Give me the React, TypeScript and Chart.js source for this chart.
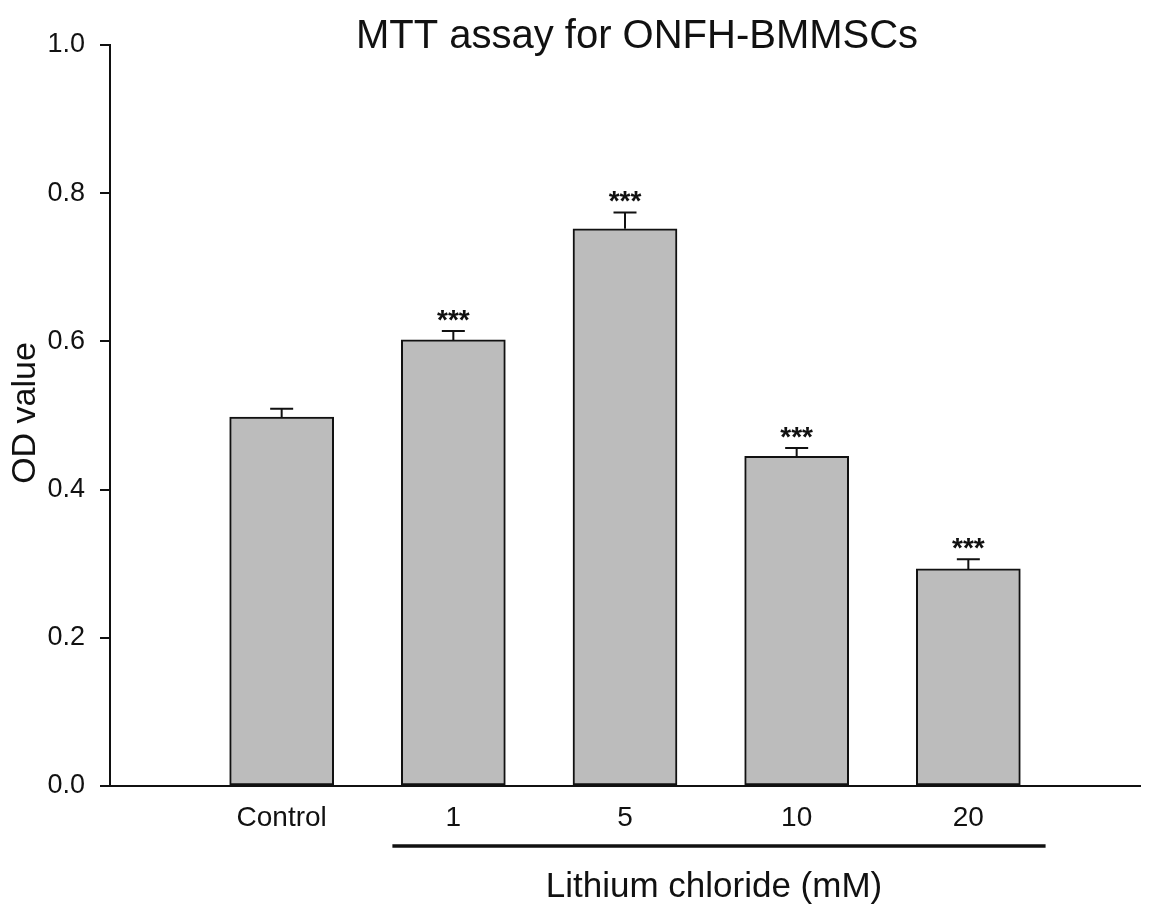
import React, { useEffect, useRef } from "react";
import { Chart, registerables } from "chart.js";

Chart.register(...registerables);

const categories = ["Control", "1", "5", "10", "20"];
const positions = [1, 2, 3, 4, 5];
const odValues = [0.498, 0.602, 0.752, 0.445, 0.293];
const odErrors = [0.011, 0.012, 0.022, 0.011, 0.013];
const significance = ["", "***", "***", "***", "***"];
const yTicks = [0, 0.2, 0.4, 0.6, 0.8, 1.0];

const FONT = "'Liberation Sans', Arial, Helvetica, sans-serif";
const INK = "#111111";

const annotations = {
  id: "annotations",
  afterDatasetsDraw(chart: any) {
    const ctx = chart.ctx;
    const meta = chart.getDatasetMeta(0);
    const y = chart.scales.y;
    ctx.save();
    ctx.strokeStyle = INK;
    ctx.fillStyle = INK;
    ctx.lineWidth = 2;
    meta.data.forEach((bar: any, i: number) => {
      const top = y.getPixelForValue(odValues[i]);
      const errTop = y.getPixelForValue(odValues[i] + odErrors[i]);
      ctx.beginPath();
      ctx.moveTo(bar.x, top);
      ctx.lineTo(bar.x, errTop);
      ctx.moveTo(bar.x - 11.5, errTop);
      ctx.lineTo(bar.x + 11.5, errTop);
      ctx.stroke();
      if (significance[i]) {
        ctx.font = `bold 28px ${FONT}`;
        ctx.textAlign = "center";
        ctx.textBaseline = "alphabetic";
        ctx.fillText(significance[i], bar.x, errTop - 2);
      }
    });
    ctx.restore();
  },
  afterDraw(chart: any) {
    const ctx = chart.ctx;
    const x = chart.scales.x;
    ctx.save();
    ctx.fillStyle = INK;
    ctx.strokeStyle = INK;
    // title
    ctx.font = `40px ${FONT}`;
    ctx.textAlign = "center";
    ctx.textBaseline = "alphabetic";
    ctx.fillText("MTT assay for ONFH-BMMSCs", 637, 48);
    // y axis title
    ctx.save();
    ctx.translate(35, 413);
    ctx.rotate(-Math.PI / 2);
    ctx.font = `34px ${FONT}`;
    ctx.textAlign = "center";
    ctx.textBaseline = "alphabetic";
    ctx.fillText("OD value", 0, 0);
    ctx.restore();
    // bracket under lithium groups
    ctx.lineWidth = 3.5;
    ctx.beginPath();
    ctx.moveTo(x.getPixelForValue(1.645), 846);
    ctx.lineTo(x.getPixelForValue(5.45), 846);
    ctx.stroke();
    ctx.font = `35px ${FONT}`;
    ctx.textAlign = "center";
    ctx.fillText("Lithium chloride (mM)", 714, 897);
    ctx.restore();
  },
};

export default function App() {
  const ref = useRef<HTMLCanvasElement | null>(null);
  useEffect(() => {
    if (!ref.current) return;
    const chart = new Chart(ref.current, {
      type: "bar",
      data: {
        datasets: [
          {
            data: positions.map((p, i) => ({ x: p, y: odValues[i] })),
            backgroundColor: "#bcbcbc",
            borderColor: INK,
            borderWidth: 2,
            borderSkipped: false,
            barThickness: 104,
          },
        ],
      },
      options: {
        responsive: false,
        animation: false,
        events: [],
        layout: { padding: { left: 0, right: 13, top: 45, bottom: 71 } },
        plugins: { legend: { display: false }, tooltip: { enabled: false }, title: { display: false } },
        scales: {
          x: {
            type: "linear",
            offset: false,
            min: 0,
            max: 6,
            afterFit: (s: any) => {
              s.height = 60;
            },
            afterBuildTicks: (s: any) => {
              s.ticks = [0, 1, 2, 3, 4, 5, 6].map((v) => ({ value: v }));
            },
            ticks: {
              autoSkip: false,
              maxRotation: 0,
              padding: 15,
              color: INK,
              font: { family: FONT, size: 28 },
              callback: (v: any) => {
                const idx = positions.indexOf(Number(v));
                return idx >= 0 ? categories[idx] : "";
              },
            },
            grid: { display: false, drawTicks: false },
            border: { display: true, color: INK, width: 2 },
          },
          y: {
            min: 0,
            max: 1,
            afterFit: (s: any) => {
              s.width = 110;
            },
            afterBuildTicks: (s: any) => {
              s.ticks = yTicks.map((v) => ({ value: v }));
            },
            ticks: {
              padding: 15,
              color: INK,
              font: { family: FONT, size: 27 },
              callback: (v: any) => Number(v).toFixed(1),
            },
            grid: { display: true, drawOnChartArea: false, drawTicks: true, tickLength: 10, color: INK, lineWidth: 2 },
            border: { display: true, color: INK, width: 2 },
          },
        },
      },
      plugins: [annotations],
    });
    return () => chart.destroy();
  }, []);
  return (
    <div style={{ position: "absolute", left: 0, top: 0, width: 1155, height: 917, background: "#fff" }}>
      <canvas ref={ref} width={1155} height={917} style={{ display: "block" }} />
    </div>
  );
}
